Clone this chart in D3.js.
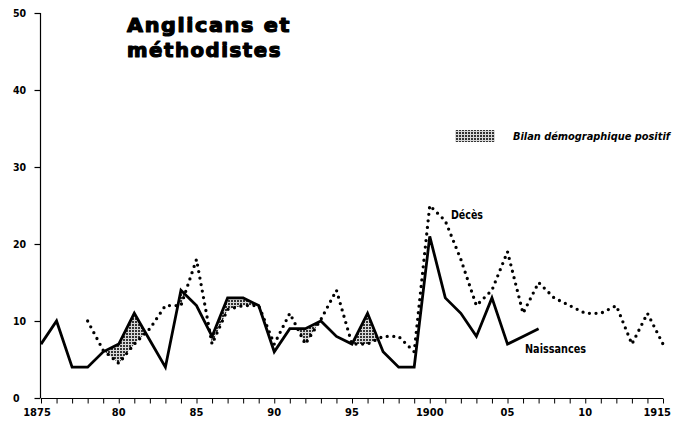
<!DOCTYPE html>
<html>
<head>
<meta charset="utf-8">
<script src="https://cdn.jsdelivr.net/npm/d3@7"></script>
<style>
  html, body { margin: 0; padding: 0; background: #fff; }
  svg { display: block; }
</style>
</head>
<body>
<svg id="chart" width="675" height="427"></svg>
<script>
// ---- data ----
const naissancesYears = [1875,1876,1877,1878,1879,1880,1881,1882,1883,1884,1885,1886,1887,1888,1889,1890,1891,1892,1893,1894,1895,1896,1897,1898,1899,1900,1901,1902,1903,1904,1905,1906,1907];
const naissances      = [7,10,4,4,6,7,11,7.5,4,14,12,8,13,13,12,6,9,9,10,8,7,11,6,4,4,21,13,11,8,13,7,8,9];
const decesYears = [1878,1879,1880,1881,1882,1883,1884,1885,1886,1887,1888,1889,1890,1891,1892,1893,1894,1895,1896,1897,1898,1899,1900,1901,1902,1903,1904,1905,1906,1907,1908,1909,1910,1911,1912,1913,1914,1915];
const deces      = [10,6.2,4.5,7,9,12,12,18,7,11.5,12,12,7,11,7,10.2,14,7,7,8,8,6,25,23,18,12,14,19,11,15,13,12,11,11,12,7,11,7];
const xTickLabels = ["1875","80","85","90","95","1900","05","10","1915"];
const xTickValues = [1875,1880,1885,1890,1895,1900,1905,1910,1915];
const yTickValues = [0,10,20,30,40,50];
const titleLines = ["Anglicans et", "méthodistes"];
const legendLabel = "Bilan démographique positif";
const seriesLabels = {deces: "Décès", naissances: "Naissances"};

const births = naissancesYears.map((yr, i) => ({year: yr, v: naissances[i]}));
const deaths = decesYears.map((yr, i) => ({year: yr, v: deces[i]}));

// ---- layout ----
const svg = d3.select("#chart");
const x = d3.scaleLinear().domain([1875, 1915]).range([41, 663]);
const y = d3.scaleLinear().domain([0, 50]).range([398, 13]);
const labelFont = "'DejaVu Sans Condensed', 'DejaVu Sans', sans-serif";

// stipple pattern for positive balance
const defs = svg.append("defs");
const pat = defs.append("pattern")
  .attr("id", "stipple").attr("patternUnits", "userSpaceOnUse")
  .attr("width", 3).attr("height", 3);
pat.append("rect").attr("width", 3).attr("height", 3).attr("fill", "#d8d8d8");
pat.append("rect").attr("x", 0).attr("y", 0).attr("width", 2).attr("height", 2).attr("fill", "#333");

// clip: region below births line
defs.append("clipPath").attr("id", "belowBirths")
  .append("path")
  .attr("d", d3.area().x(d => x(d.year)).y0(y(0) + 50).y1(d => y(d.v))(births));

// shaded area: region above deaths, clipped to below births
svg.append("path")
  .attr("clip-path", "url(#belowBirths)")
  .attr("fill", "url(#stipple)")
  .attr("d", d3.area().x(d => x(d.year)).y0(d => y(d.v)).y1(0)(deaths));

// ---- axes ----
const yAxis = d3.axisLeft(y).tickValues(yTickValues).tickSize(6).tickFormat("");
const gy = svg.append("g").attr("transform", "translate(40.5,0)").call(yAxis);
gy.select(".domain").attr("stroke", "#000").attr("stroke-width", 1.2).attr("d", `M-0,${y(50)}V${y(0)}`);
gy.selectAll(".tick line").attr("stroke", "#000").attr("stroke-width", 1.2);
svg.append("g").selectAll("text").data(yTickValues).join("text")
  .attr("x", 13).attr("y", d => y(d)).attr("dy", "0.36em")
  .attr("font-family", labelFont).attr("font-weight", "bold").attr("font-size", 10.5)
  .text(d => d);

const xAxis = d3.axisBottom(x).ticks(40).tickSize(5).tickFormat("");
const gx = svg.append("g").attr("transform", "translate(0,398.5)").call(xAxis);
gx.select(".domain").attr("stroke", "#000").attr("stroke-width", 1.2).attr("d", `M${x(1875)},0H${x(1915)}`);
gx.selectAll(".tick line").attr("stroke", "#000").attr("stroke-width", 1);

svg.append("g").selectAll("text").data(xTickValues).join("text")
  .attr("x", (d, i) => i === 0 ? x(d) - 4 : (i === xTickValues.length - 1 ? x(d) + 8 : x(d)))
  .attr("y", 416)
  .attr("text-anchor", (d, i) => i === xTickValues.length - 1 ? "end" : "middle")
  .attr("font-family", labelFont).attr("font-weight", "bold").attr("font-size", 11)
  .text((d, i) => xTickLabels[i]);

// ---- lines ----
const line = d3.line().x(d => x(d.year)).y(d => y(d.v));
svg.append("path").datum(deaths)
  .attr("d", line).attr("fill", "none").attr("stroke", "#000")
  .attr("stroke-width", 3.3).attr("stroke-linecap", "round")
  .attr("stroke-dasharray", "0,6.6");
svg.append("path").datum(births)
  .attr("d", line).attr("fill", "none").attr("stroke", "#000")
  .attr("stroke-width", 2.8).attr("stroke-linejoin", "miter");

// ---- series labels ----
svg.append("text").attr("x", 451).attr("y", 219)
  .attr("font-family", labelFont).attr("font-weight", "bold").attr("font-size", 12)
  .attr("textLength", 32).attr("lengthAdjust", "spacingAndGlyphs")
  .text(seriesLabels.deces);
svg.append("text").attr("x", 525).attr("y", 353)
  .attr("font-family", labelFont).attr("font-weight", "bold").attr("font-size", 12.5)
  .attr("textLength", 61).attr("lengthAdjust", "spacingAndGlyphs")
  .text(seriesLabels.naissances);

// ---- legend ----
svg.append("rect").attr("x", 455).attr("y", 130).attr("width", 40).attr("height", 12)
  .attr("fill", "url(#stipple)");
svg.append("text").attr("x", 513).attr("y", 140)
  .attr("font-family", labelFont).attr("font-weight", "bold").attr("font-style", "italic")
  .attr("font-size", 11).attr("textLength", 157).attr("lengthAdjust", "spacingAndGlyphs")
  .text(legendLabel);

// ---- title ----
const title = svg.append("g");
title.append("text").attr("x", 127).attr("y", 32).text(titleLines[0]).attr("textLength", 164);
title.append("text").attr("x", 127).attr("y", 57).text(titleLines[1]).attr("textLength", 155);
title.selectAll("text")
  .attr("font-family", "'DejaVu Sans', sans-serif").attr("font-weight", "bold")
  .attr("font-size", 19).attr("lengthAdjust", "spacingAndGlyphs")
  .attr("letter-spacing", 1.5)
  .attr("stroke", "#000").attr("stroke-width", 1.2).attr("stroke-linejoin", "round")
  .attr("fill", "#000");
</script>
</body>
</html>
